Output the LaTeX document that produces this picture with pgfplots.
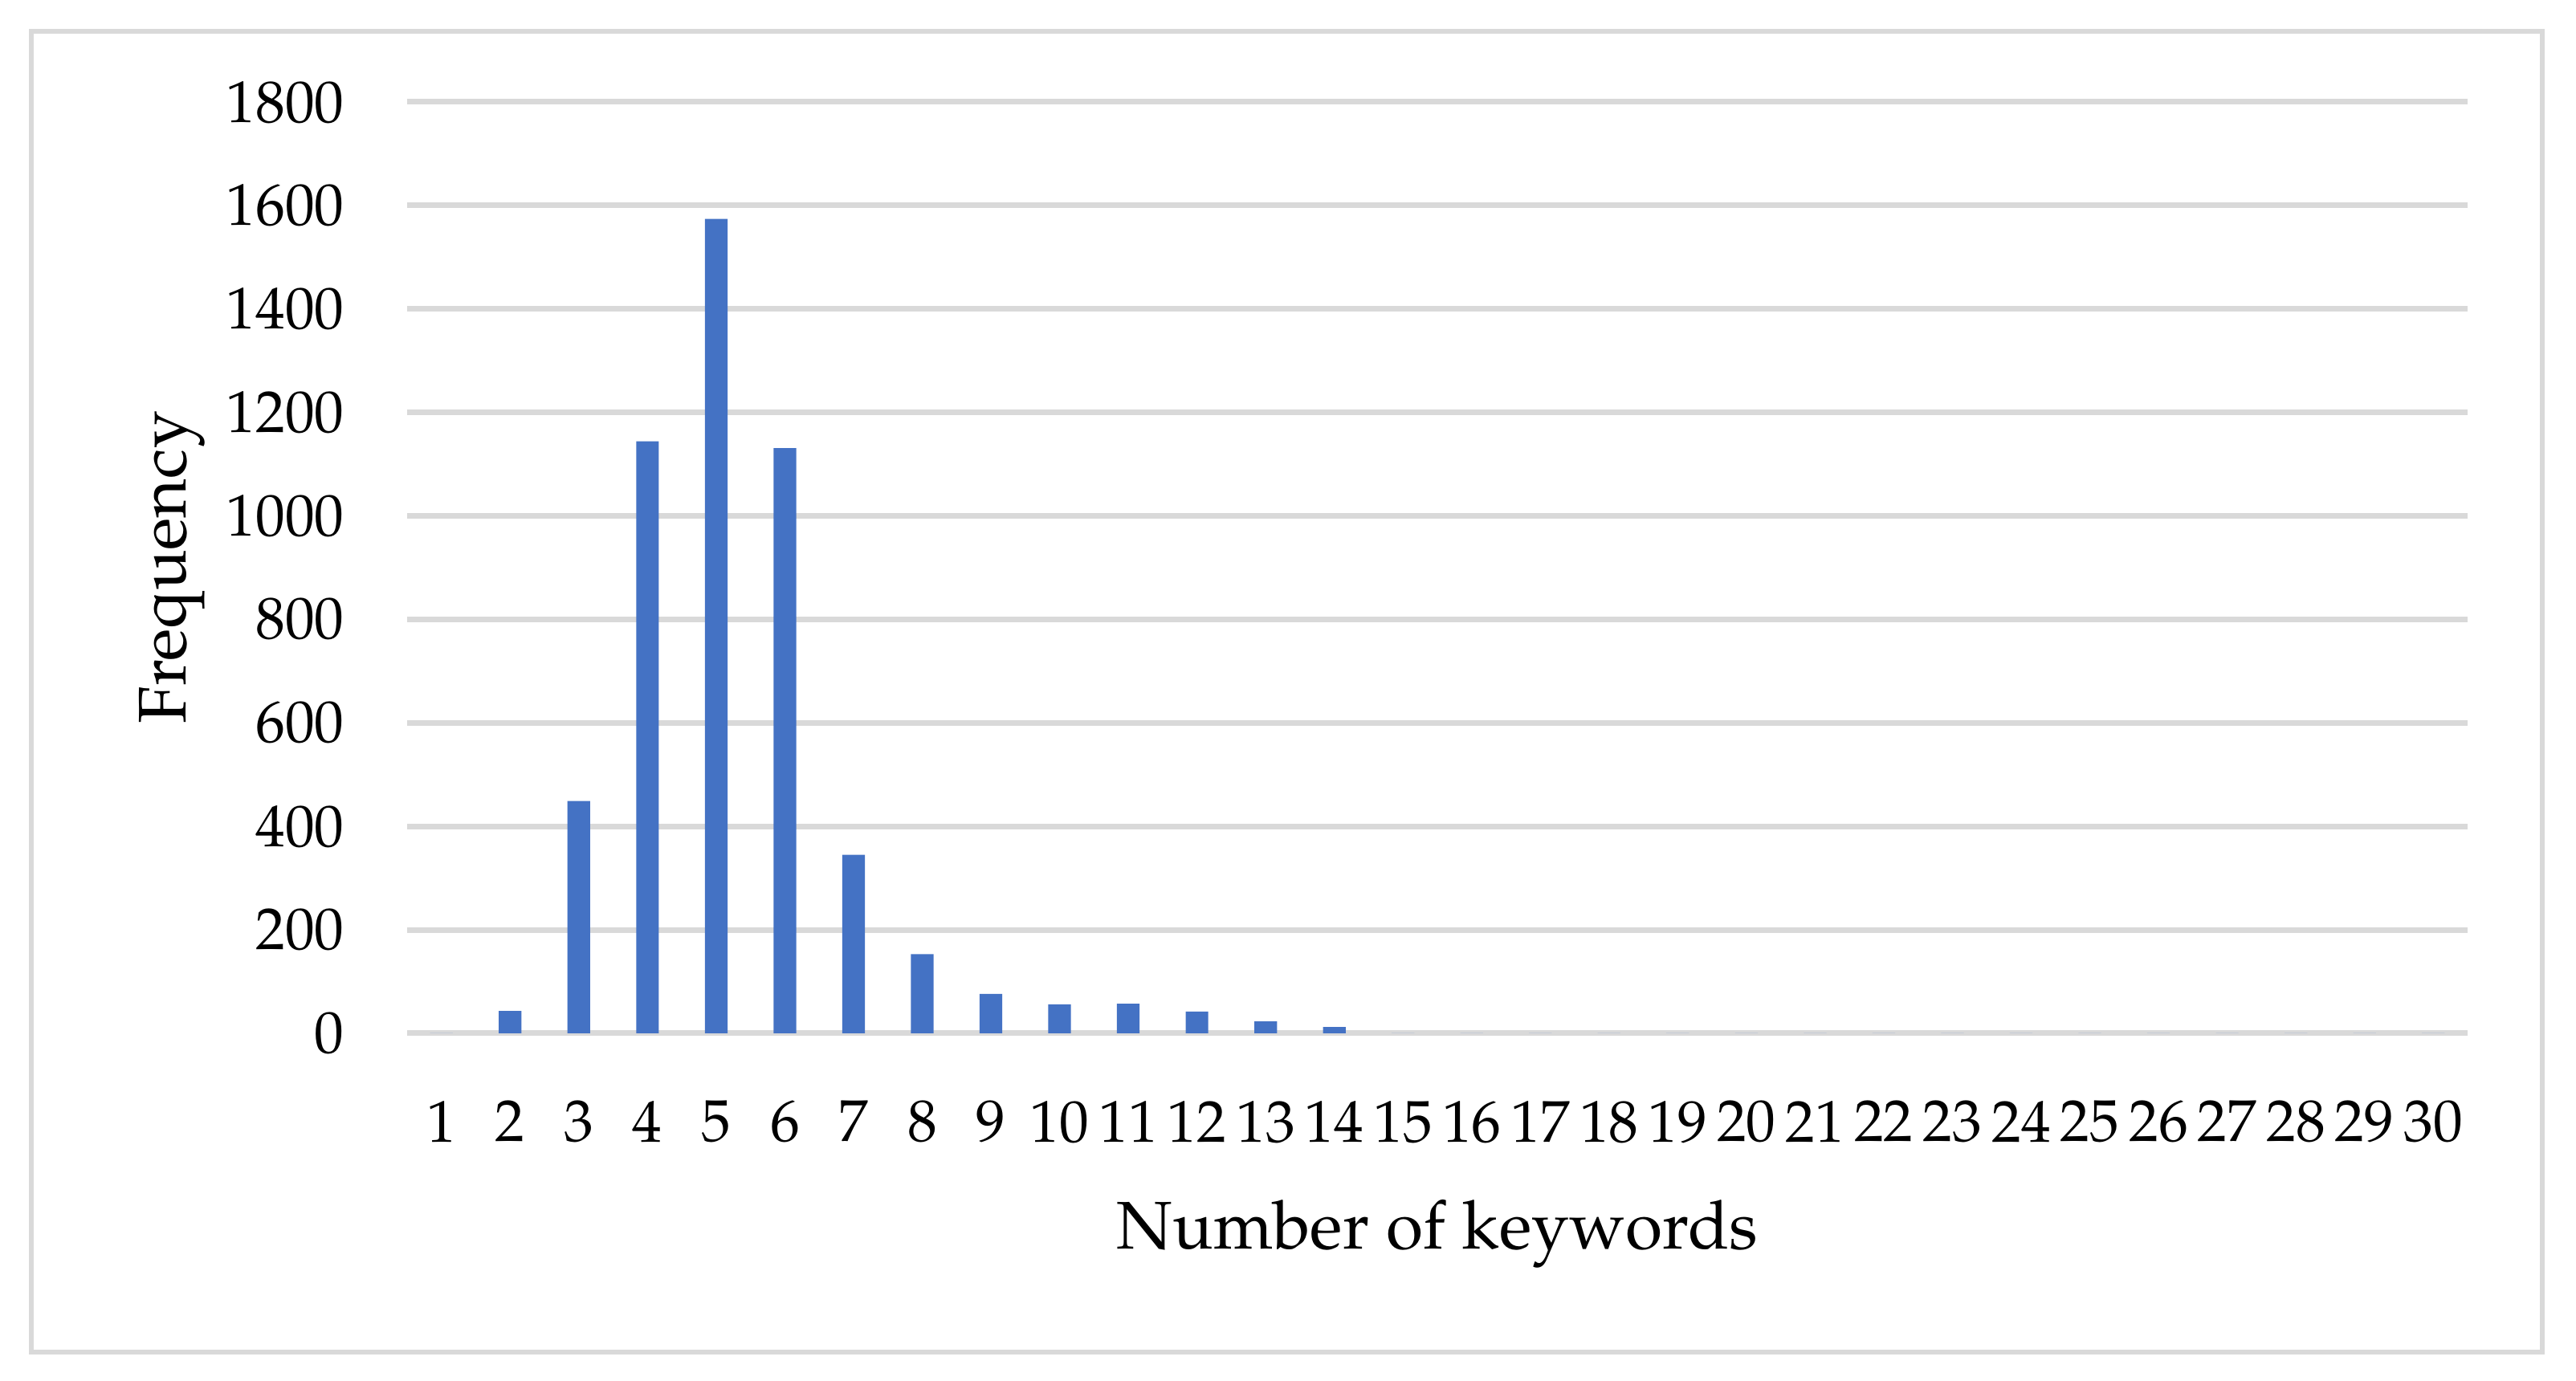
\documentclass[border=0pt]{standalone}
\usepackage[T1]{fontenc}
\usepackage{mathpazo}
\usepackage{pgfplots}
\pgfplotsset{compat=1.18}
\definecolor{barblue}{HTML}{4472C4}
\definecolor{gridgray}{HTML}{D9D9D9}

\begin{document}
\begin{tikzpicture}
\path[use as bounding box] (0,0) rectangle (458.29pt,245.71pt);
\draw[gridgray,line width=0.86pt] (5.6pt,5.2pt) rectangle (452.3pt,240.1pt);
\begin{axis}[at={(72.43pt,61.86pt)},anchor=south west,
  scale only axis,width=366.57pt,height=165.71pt,
  ybar,bar width=0.33,
  xmin=0.5,xmax=30.5,ymin=0,ymax=1800,
  xtick={1,...,30},ytick={0,200,...,1800},
  scaled y ticks=false,
  yticklabel style={/pgf/number format/set thousands separator={},
    anchor=east,inner sep=0pt,xshift=-11pt},
  xticklabel style={anchor=north,inner sep=0pt,yshift=-11.9pt},
  tick label style={font=\fontsize{10.5}{12}\selectfont},
  major tick length=0pt,
  ymajorgrids,grid style={draw=gridgray,line width=1pt},
  axis lines*=left,separate axis lines,
  x axis line style={draw=gridgray,line width=1pt},
  y axis line style={draw=none},
  xlabel={Number of keywords},ylabel={Frequency},
  label style={font=\fontsize{12}{14}\selectfont},
  xlabel style={at={([yshift=-38.4pt]axis description cs:0.5,0)},anchor=base},
  ylabel style={at={([xshift=-39.3pt]axis description cs:0,0.5)},anchor=base,rotate=0},
]
\addplot[fill=barblue,draw=none] coordinates {
  (1,0) (2,43) (3,449) (4,1144) (5,1574) (6,1131) (7,345) (8,153)
  (9,76) (10,56) (11,57) (12,42) (13,23) (14,12) (15,0) (16,0)
  (17,0) (18,0) (19,0) (20,0) (21,0) (22,0) (23,0) (24,0)
  (25,0) (26,0) (27,0) (28,0) (29,0) (30,0)};
\end{axis}
\end{tikzpicture}
\end{document}
